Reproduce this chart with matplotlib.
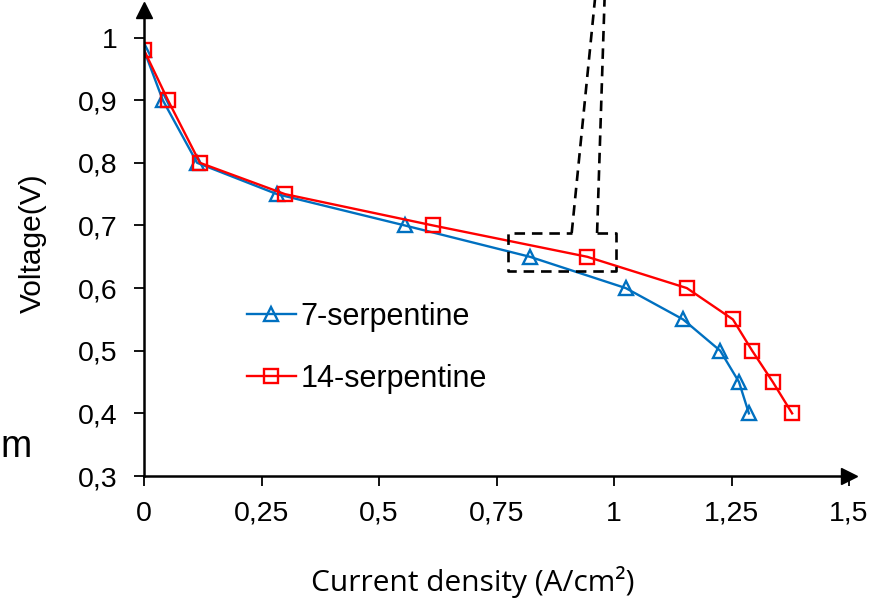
import matplotlib.pyplot as plt
import numpy as np

# data
j7 = [0, 0.04, 0.113, 0.283, 0.555, 0.821, 1.025, 1.147, 1.226, 1.266, 1.287]
v7 = [0.98, 0.9, 0.8, 0.75, 0.7, 0.65, 0.6, 0.55, 0.5, 0.45, 0.4]
j14 = [0, 0.051, 0.119, 0.3, 0.615, 0.943, 1.155, 1.253, 1.294, 1.338, 1.379]
v14 = [0.98, 0.9, 0.8, 0.75, 0.7, 0.65, 0.6, 0.55, 0.5, 0.45, 0.4]

xticks = [0, 0.25, 0.5, 0.75, 1, 1.25, 1.5]
xlabels = ['0', '0,25', '0,5', '0,75', '1', '1,25', '1,5']
yticks = [0.3, 0.4, 0.5, 0.6, 0.7, 0.8, 0.9, 1.0]
ylabels = ['0,3', '0,4', '0,5', '0,6', '0,7', '0,8', '0,9', '1']

# zoom box and the lines leading out of it
box_x = [0.774, 1.004]
box_y = [0.627, 0.688]

plt.rcParams['font.family'] = ['Liberation Sans', 'DejaVu Sans']

fig = plt.figure(figsize=(8.85, 6.06), dpi=100)
ax = fig.add_axes([144 / 885, 1 - 476 / 606, (849 - 144) / 885, (476 - 10) / 606])

ax.plot(j7, v7, '-^', color='#0070C0', lw=1.7, ms=10, mfc='none', mew=1.7, label='7-serpentine')
ax.plot(j14, v14, '-s', color='#FF0000', lw=1.7, ms=10, mfc='none', mew=1.7, label='14-serpentine')

ax.set_xlim(0, 1.5)
ax.set_ylim(0.3, 1.044)

# dashed zoom box
dash = dict(color='k', ls='--', lw=1.9, dashes=(4, 2.6))
ax.plot([0.964, box_x[1], box_x[1], box_x[0], box_x[0], 0.91],
        [box_y[1], box_y[1], box_y[0], box_y[0], box_y[1], box_y[1]], **dash)
ax.plot([0.91, 0.966], [box_y[1], 1.11], clip_on=False, **dash)
ax.plot([0.964, 0.982], [box_y[1], 1.11], clip_on=False, **dash)

for s in ['top', 'right']:
    ax.spines[s].set_visible(False)
for s in ['left', 'bottom']:
    ax.spines[s].set_linewidth(1.8)
ax.plot(1, 0, '>k', ms=11, transform=ax.transAxes, clip_on=False)
ax.plot(0, 1, '^k', ms=11, transform=ax.transAxes, clip_on=False)

ax.set_xticks(xticks)
ax.set_xticklabels(xlabels)
ax.set_yticks(yticks)
ax.set_yticklabels(ylabels)
ax.tick_params(direction='out', length=7, width=1.3, labelsize=20.5)
ax.tick_params(axis='y', pad=12)
ax.tick_params(axis='x', pad=11)

ax.set_ylabel('Voltage(V)', fontsize=21.5, family=['Liberation Sans', 'DejaVu Sans'])
ax.yaxis.set_label_coords((33 - 144) / 705, 0.5)
ax.yaxis.label.set_va('center')
ax.set_xlabel('Current density (A/cm²)', fontsize=21.5, family=['Open Sans', 'DejaVu Sans'])
ax.xaxis.set_label_coords(0.467, (476 - 582) / 466)
ax.xaxis.label.set_va('center')

ax.legend(loc='center left', bbox_to_anchor=((247 - 144) / 705, (476 - 348) / 466),
          frameon=False, fontsize=22, borderpad=0, borderaxespad=0,
          handlelength=1.6, handletextpad=0.15, labelspacing=1.05)

fig.text(0, 1 - 447 / 606, 'm', fontsize=27, va='center', ha='left')

fig.savefig('out.png', dpi=100)
